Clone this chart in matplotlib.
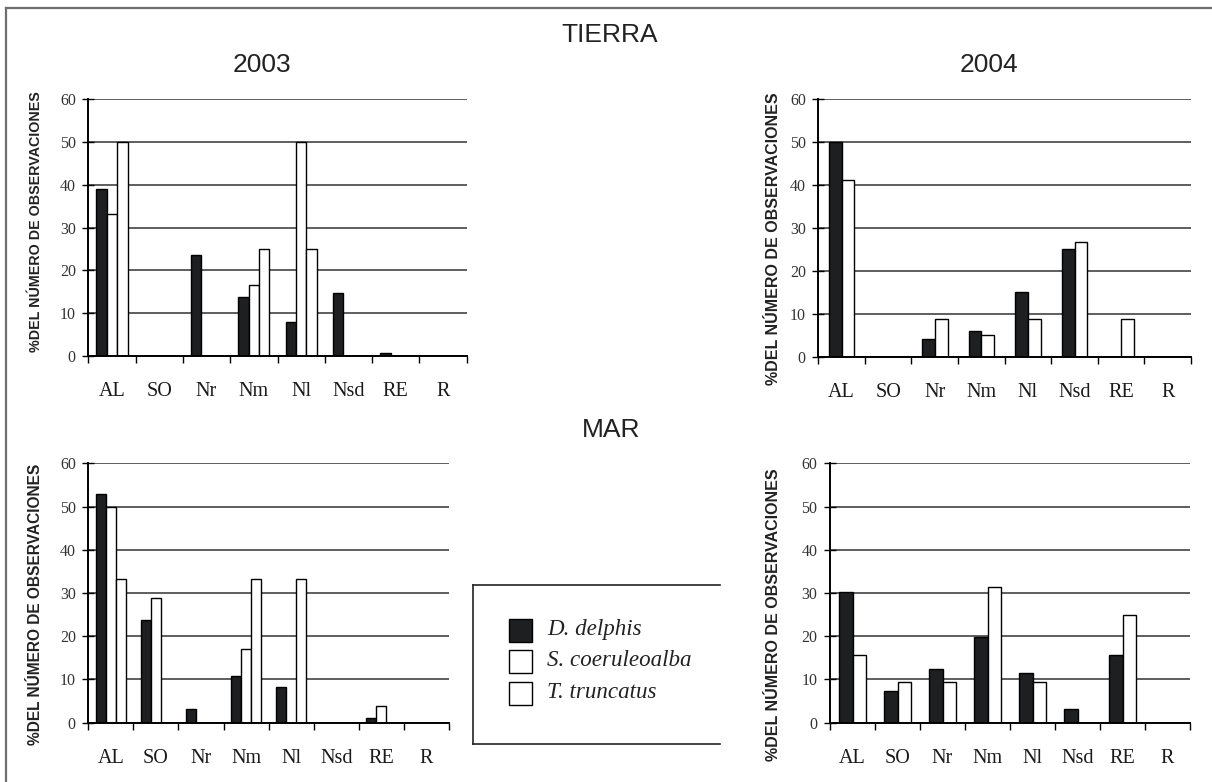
import matplotlib
matplotlib.use("Agg")
import matplotlib.pyplot as plt
from matplotlib.lines import Line2D
from matplotlib.patches import Rectangle
import numpy as np

# ---------------- data ----------------
categories = ["AL", "SO", "Nr", "Nm", "Nl", "Nsd", "RE", "R"]
species = ["D. delphis", "S. coeruleoalba", "T. truncatus"]

tierra_2003_dd = [39.0, 0, 23.7, 13.9, 7.9, 14.8, 0.8, 0]
tierra_2003_sc = [33.3, 0, 0, 16.7, 50.0, 0, 0, 0]
tierra_2003_tt = [50.0, 0, 0, 25.0, 25.0, 0, 0, 0]

tierra_2004_dd = [50.0, 0, 4.1, 6.0, 15.0, 25.2, 0, 0]
tierra_2004_sc = [41.2, 0, 8.9, 5.0, 8.9, 26.8, 8.9, 0]

mar_2003_dd = [52.9, 23.7, 3.2, 10.8, 8.2, 0, 1.0, 0]
mar_2003_sc = [49.8, 28.8, 0, 17.0, 0, 0, 3.9, 0]
mar_2003_tt = [33.3, 0, 0, 33.3, 33.3, 0, 0, 0]

mar_2004_dd = [30.2, 7.3, 12.5, 19.8, 11.5, 3.2, 15.7, 0]
mar_2004_sc = [15.6, 9.4, 9.4, 31.3, 9.4, 0, 25.0, 0]

yticks = [0, 10, 20, 30, 40, 50, 60]

# ---------------- layout helpers ----------------
W, H = 1212, 782
fig = plt.figure(figsize=(W / 100, H / 100), dpi=100)
fig.patch.set_facecolor("white")

def fx(x):
    return x / W

def fy(y):
    return 1 - y / H

def add_axes_px(x0, y0, x1, y1):
    return fig.add_axes([fx(x0), fy(y1), (x1 - x0) / W, (y1 - y0) / H])

BLACK = "#1e1f21"
GRID = "#333333"
SERIF = "Liberation Serif"
SANS = "Liberation Sans"

def style_axes(ax):
    ax.set_xlim(0, len(categories))
    ax.set_ylim(0, 60)
    for s in ("top", "right"):
        ax.spines[s].set_visible(False)
    for s in ("left", "bottom"):
        ax.spines[s].set_color("black")
        ax.spines[s].set_linewidth(1.4)
        ax.spines[s].set_zorder(5)
    ax.set_axisbelow(True)
    ax.yaxis.grid(True, color=GRID, linewidth=1.1)
    ax.set_yticks(yticks)
    ax.set_yticklabels([str(v) for v in yticks], fontfamily=SERIF, fontsize=11.5,
                       color="#333333")
    ax.tick_params(axis="y", direction="inout", length=8, width=1.0, pad=5)
    # category boundaries as major ticks, labels at minor ticks (centres)
    ax.set_xticks(np.arange(0, len(categories) + 1))
    ax.set_xticklabels([])
    ax.tick_params(axis="x", which="major", direction="out", length=5, width=1.0)
    ax.set_xticks(np.arange(len(categories)) + 0.5, minor=True)
    ax.set_xticklabels(categories, minor=True, fontfamily=SERIF, fontsize=14.5,
                       color="#1a1a1a")
    ax.tick_params(axis="x", which="minor", length=0, pad=19)
    ax.set_facecolor("none")

def draw_bars(ax, series, width):
    n = len(series)
    xc = np.arange(len(categories)) + 0.5
    colors = [BLACK, "white", "white"]
    for i, vals in enumerate(series):
        off = (i - (n - 1) / 2) * width
        ax.bar(xc + off, vals, width=width, color=colors[i], edgecolor="black",
               linewidth=1.0, zorder=3)

# ---------------- panels ----------------
ax_tl = add_axes_px(88.3, 99.3, 466.7, 356.0)
style_axes(ax_tl)
draw_bars(ax_tl, [tierra_2003_dd, tierra_2003_sc, tierra_2003_tt], 0.22)

ax_tr = add_axes_px(818.3, 99.3, 1191.0, 356.7)
style_axes(ax_tr)
draw_bars(ax_tr, [tierra_2004_dd, tierra_2004_sc], 0.275)

ax_bl = add_axes_px(88.3, 463.3, 449.0, 722.7)
style_axes(ax_bl)
draw_bars(ax_bl, [mar_2003_dd, mar_2003_sc, mar_2003_tt], 0.225)

ax_br = add_axes_px(830.0, 463.3, 1190.0, 722.7)
style_axes(ax_br)
draw_bars(ax_br, [mar_2004_dd, mar_2004_sc], 0.29)

# ---------------- y labels ----------------
ylab = "%DEL NÚMERO DE OBSERVACIONES"
for (x, y, fs) in [(36, 222, 10.3), (773, 239, 11.5), (36, 604, 11.2), (773, 615, 11.5)]:
    fig.text(fx(x), fy(y), ylab, rotation=90, ha="center", va="center",
             fontfamily=SANS, fontweight="bold", fontsize=fs, color="#222222")

# ---------------- titles ----------------
fig.text(fx(610), fy(35), "TIERRA", ha="center", va="center", fontfamily=SANS,
         fontsize=19, color="#222222")
fig.text(fx(262), fy(65), "2003", ha="center", va="center", fontfamily=SANS,
         fontsize=19, color="#222222")
fig.text(fx(989), fy(65), "2004", ha="center", va="center", fontfamily=SANS,
         fontsize=19, color="#222222")
fig.text(fx(611), fy(430), "MAR", ha="center", va="center", fontfamily=SANS,
         fontsize=19, color="#222222")

# ---------------- legend (box open on the right) ----------------
box_l, box_t, box_r, box_b = 473, 585, 720, 744
for (xa, ya, xb, yb) in [(box_l, box_t, box_r, box_t), (box_l, box_t, box_l, box_b),
                         (box_l, box_b, box_r, box_b)]:
    fig.add_artist(Line2D([fx(xa), fx(xb)], [fy(ya), fy(yb)], color="#222222",
                          linewidth=1.2, transform=fig.transFigure))

leg_rows = [630, 661, 693]
leg_colors = [BLACK, "white", "white"]
for name, yc, col in zip(species, leg_rows, leg_colors):
    fig.add_artist(Rectangle((fx(509), fy(yc + 11.5)), 23 / W, 23 / H,
                             facecolor=col, edgecolor="black", linewidth=1.0,
                             transform=fig.transFigure))
    fig.text(fx(547), fy(yc), name, ha="left", va="center", fontfamily=SERIF,
             fontstyle="italic", fontsize=16.6, color="#222222")

# ---------------- outer frame (top and left) ----------------
fig.add_artist(Line2D([fx(6), fx(W + 5)], [fy(7.5), fy(7.5)], color="#6e6e6e",
                      linewidth=1.6, transform=fig.transFigure))
fig.add_artist(Line2D([fx(6), fx(6)], [fy(7.5), fy(H + 5)], color="#6e6e6e",
                      linewidth=1.6, transform=fig.transFigure))

fig.savefig("out.png", dpi=100)
